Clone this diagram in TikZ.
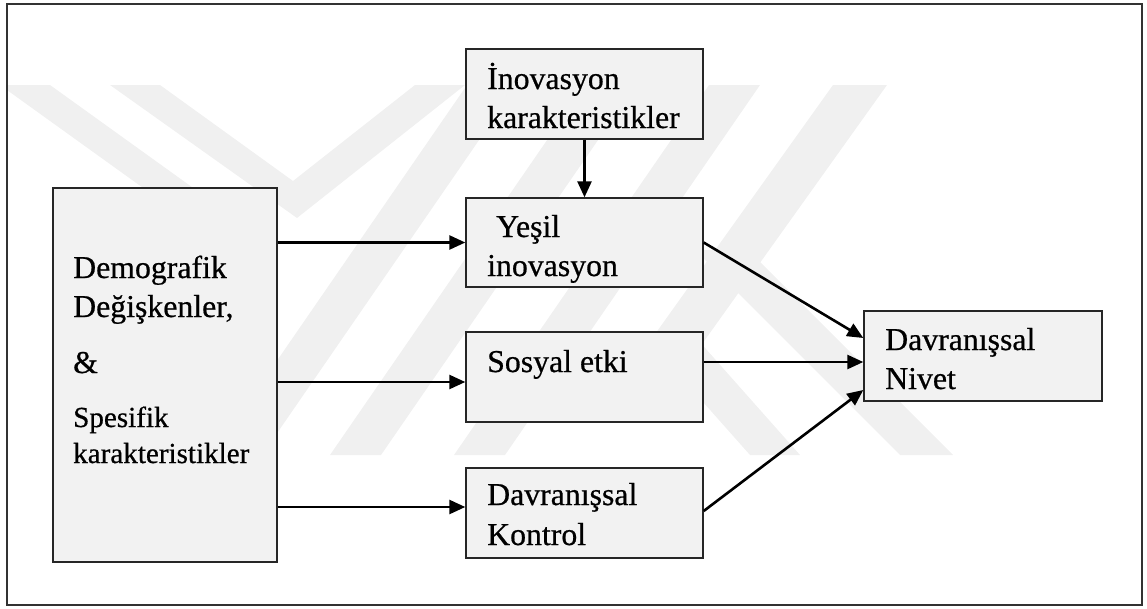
\documentclass[tikz,border=0pt]{standalone}
\usepackage{fontspec}
\setmainfont{Liberation Serif}
\newfontfamily\heavyserif{Liberation Serif}[FakeBold=0.6]
\usetikzlibrary{arrows.meta}
\definecolor{boxfill}{RGB}{242,242,242}
\definecolor{wm}{RGB}{240,240,240}
\definecolor{framec}{RGB}{50,50,50}
\begin{document}
\begin{tikzpicture}[x=1pt,y=-1pt,
  box/.style={draw=black!85, fill=boxfill, line width=1.4pt, inner sep=0pt, rectangle},
  arr/.style={line width=2.6pt, -{Triangle[length=16pt,width=14pt]}},
  lbl/.style={anchor=base west, inner sep=0pt, font=\heavyserif\fontsize{31.8pt}{38pt}\selectfont},
  lbls/.style={anchor=base west, inner sep=0pt, font=\heavyserif\fontsize{29.1pt}{35pt}\selectfont},
  wmk/.style={fill=wm, draw=none}]
\useasboundingbox (0,0) rectangle (1147,608);
% watermark
\begin{scope}
\clip (7,4) rectangle (1142,605);
\fill[wmk] (110,85) -- (160,85) -- (293,181) -- (415,85) -- (465,85) -- (297,218) -- cycle;
\fill[wmk] (0,85) -- (50,85) -- (260,236) -- (210,236) -- cycle;
\fill[wmk] (212,455) -- (262,455) -- (517,85) -- (467,85) -- cycle;
\fill[wmk] (330,455) -- (381,455) -- (636,85) -- (585,85) -- cycle;
\fill[wmk] (454,455) -- (505,455) -- (760,85) -- (709,85) -- cycle;
\fill[wmk] (833,85) -- (887,85) -- (662,400) -- (608,400) -- cycle;
\fill[wmk] (648,340) -- (698,340) -- (800,455) -- (750,455) -- cycle;
\fill[wmk] (695,250) -- (748,250) -- (953,455) -- (900,455) -- cycle;
\end{scope}
% frame
\draw[line width=2.5pt, framec] (7,4) rectangle (1142,605);
% boxes
\node[box, minimum width=224pt, minimum height=374pt] (L) at (165,375) {};
\node[box, minimum width=237pt, minimum height=90pt] (I) at (584.5,94) {};
\node[box, minimum width=237pt, minimum height=89pt] (Y) at (584.5,242.5) {};
\node[box, minimum width=237pt, minimum height=90pt] (S) at (584.5,377) {};
\node[box, minimum width=237pt, minimum height=90pt] (K) at (584.5,513) {};
\node[box, minimum width=238pt, minimum height=90pt] (N) at (983,356) {};
% texts
\node[lbl] (tL1) at (73,278) {Demografik};
\node[lbl] (tL2) at (73,317) {Değişkenler,};
\node[lbl] (tL3) at (73,373) {\&};
\node[lbls] (tL4) at (73,427) {Spesifik};
\node[lbls] (tL5) at (73,463) {karakteristikler};
\node[lbl] (tI1) at (487,89) {İnovasyon};
\node[lbl] (tI2) at (487,128) {karakteristikler};
\node[lbl] (tY1) at (496,237) {Yeşil};
\node[lbl] (tY2) at (487,276) {inovasyon};
\node[lbl] (tS1) at (487,372) {Sosyal etki};
\node[lbl] (tK1) at (487,505) {Davranışsal};
\node[lbl] (tK2) at (487,545) {Kontrol};
\node[lbl] (tN1) at (885,350) {Davranışsal};
\node[lbl] (tN2) at (885,389) {Nivet};
% connectors
\coordinate (sIn) at ([yshift=-5pt]S.west);
\coordinate (kIn) at ([yshift=6pt]K.west);
\coordinate (nY) at ([yshift=18pt]N.west);
\coordinate (nS) at ([yshift=-6pt]N.west);
\coordinate (nK) at ([yshift=-34pt]N.west);
\draw[arr] (L.east |- Y.west) -- (Y.west);
\draw[arr] (L.east |- sIn) -- (sIn);
\draw[arr] (L.east |- kIn) -- (kIn);
\draw[arr] (I.south) -- (Y.north);
\draw[arr] (Y.east) -- (nY);
\draw[arr] (S.east |- nS) -- (nS);
\draw[arr] ([yshift=2pt]K.east) -- (nK);
\end{tikzpicture}
\end{document}
